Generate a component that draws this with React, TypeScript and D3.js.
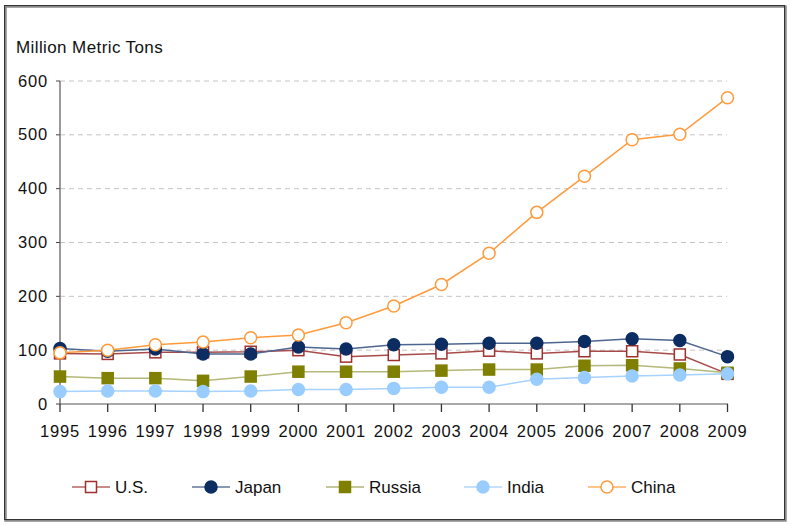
import React from "react";
import * as d3 from "d3";

const years = [1995, 1996, 1997, 1998, 1999, 2000, 2001, 2002, 2003, 2004, 2005, 2006, 2007, 2008, 2009];
const us = [94, 93, 96, 96, 97, 100, 88, 91, 94, 99, 94, 98, 98, 92, 56];
const japan = [103, 98, 102, 93, 93, 106, 102, 110, 111, 113, 113, 116, 121, 118, 88];
const russia = [51, 48, 48, 43, 51, 60, 60, 60, 62, 64, 64, 71, 72, 66, 58];
const india = [23, 24, 24, 23, 24, 27, 27, 29, 31, 31, 46, 49, 52, 54, 56];
const china = [95, 100, 110, 115, 123, 128, 151, 182, 222, 280, 356, 423, 491, 501, 569];
const yTicks = [0, 100, 200, 300, 400, 500, 600];
const seriesNames = ["U.S.", "Japan", "Russia", "India", "China"];

type Style = { line: string; legendLine: string; marker: "square" | "circle"; fill: string; stroke: string };
const styles: Style[] = [
  { line: "#A84A4A", legendLine: "#C88C8C", marker: "square", fill: "#FFFFFF", stroke: "#A0302E" },
  { line: "#4E6590", legendLine: "#8A98B4", marker: "circle", fill: "#0B2D62", stroke: "#0B2D62" },
  { line: "#B4B878", legendLine: "#C4C89A", marker: "square", fill: "#7F7F00", stroke: "#7F7F00" },
  { line: "#A6D2FF", legendLine: "#C4E2FF", marker: "circle", fill: "#99CCFF", stroke: "#99CCFF" },
  { line: "#FF9A3A", legendLine: "#FFC48A", marker: "circle", fill: "#FFFFFF", stroke: "#FF9A3A" },
];

const font = "'Liberation Sans', Arial, sans-serif";

function Marker({ x, y, s }: { x: number; y: number; s: Style }) {
  if (s.marker === "square") {
    return <rect x={x - 5.5} y={y - 5.5} width={11} height={11} fill={s.fill} stroke={s.stroke} strokeWidth={1.5} />;
  }
  return <circle cx={x} cy={y} r={6} fill={s.fill} stroke={s.stroke} strokeWidth={1.5} />;
}

export default function App() {
  const W = 791, H = 525;
  const x = d3.scaleLinear().domain([1995, 2009]).range([60, 727.5]);
  const y = d3.scaleLinear().domain([0, 600]).range([404, 81]);
  const data = [us, japan, russia, india, china];
  const line = d3.line<number>().x((_, i) => x(years[i])).y((v) => y(v));
  const legendX = [72, 192, 326, 464, 588];

  return (
    <svg width={W} height={H} style={{ position: "absolute", left: 0, top: 0, background: "#fff" }} fontFamily={font}>
      <rect x={5.5} y={6.5} width={780} height={514} fill="#fff" stroke="#8a8a8a" strokeWidth={2.5} />
      <rect x={4.5} y={5.5} width={780} height={514} fill="none" stroke="#333" strokeWidth={1} />
      <text x={16} y={53} fontSize={17} letterSpacing={0.4} fill="#111">Million Metric Tons</text>
      {yTicks.filter((t) => t > 0).map((t) => (
        <line key={"g" + t} x1={60} x2={727} y1={y(t)} y2={y(t)} stroke="#c4c4c4" strokeWidth={1} strokeDasharray="5,4" />
      ))}
      <line x1={60} x2={60} y1={y(600)} y2={y(0)} stroke="#9a9a9a" strokeWidth={2} />
      {yTicks.map((t) => (
        <g key={"y" + t}>
          <line x1={56} x2={60} y1={y(t)} y2={y(t)} stroke="#444" strokeWidth={1} />
          <text x={48} y={y(t) + 5.5} textAnchor="end" fontSize={16.5} letterSpacing={0.8} fill="#111">{t}</text>
        </g>
      ))}
      <line x1={60} x2={728} y1={y(0)} y2={y(0)} stroke="#555" strokeWidth={1.2} />
      {years.map((yr) => (
        <g key={"x" + yr}>
          <line x1={x(yr)} x2={x(yr)} y1={y(0)} y2={y(0) + 8} stroke="#333" strokeWidth={1.3} />
          <text x={x(yr)} y={437} textAnchor="middle" fontSize={16.5} letterSpacing={0.8} fill="#111">{yr}</text>
        </g>
      ))}
      {data.map((d, k) => (
        <g key={"s" + k}>
          <path d={line(d) || ""} fill="none" stroke={styles[k].line} strokeWidth={1.5} />
          {d.map((v, i) => (
            <Marker key={i} x={x(years[i])} y={y(v)} s={styles[k]} />
          ))}
        </g>
      ))}
      {seriesNames.map((n, k) => (
        <g key={"l" + k}>
          <line x1={legendX[k]} x2={legendX[k] + 38} y1={487} y2={487} stroke={styles[k].legendLine} strokeWidth={2} />
          <Marker x={legendX[k] + 19} y={487} s={styles[k]} />
          <text x={legendX[k] + 43} y={493} fontSize={17} fill="#111">{n}</text>
        </g>
      ))}
    </svg>
  );
}
